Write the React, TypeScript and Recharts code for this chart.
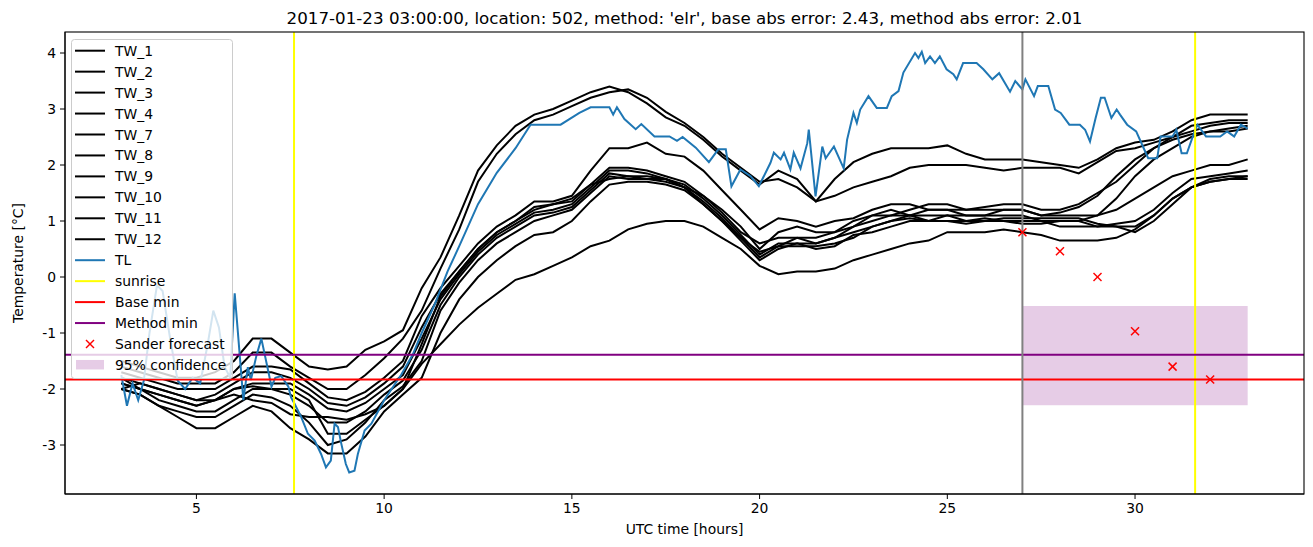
import React from 'react';
import { ComposedChart, Line, Scatter, XAxis, YAxis, ReferenceLine, ReferenceArea } from 'recharts';

const HOURS = [3, 3.5, 4, 4.5, 5, 5.5, 6, 6.5, 7, 7.5, 8, 8.5, 9, 9.5, 10, 10.5, 11, 11.5, 12, 12.5, 13, 13.5, 14, 14.5, 15, 15.5, 16, 16.5, 17, 17.5, 18, 18.5, 19, 19.5, 20, 20.5, 21, 21.5, 22, 22.5, 23, 23.5, 24, 24.5, 25, 25.5, 26, 26.5, 27, 27.5, 28, 28.5, 29, 29.5, 30, 30.5, 31, 31.5, 32, 32.5, 33];

const TW_1 = [
  -1.5, -1.6, -1.7, -1.8, -1.8, -1.7, -1.5, -1.1, -1.1, -1.35,
  -1.6, -1.65, -1.6, -1.3, -1.15, -0.95, -0.2, 0.35, 1.1, 1.9,
  2.35, 2.7, 2.9, 3.0, 3.15, 3.3, 3.4, 3.3, 3.1, 2.85,
  2.7, 2.45, 2.15, 1.9, 1.65, 1.9, 1.75, 1.35, 1.75, 2.05,
  2.2, 2.3, 2.3, 2.3, 2.35, 2.2, 2.1, 2.1, 2.1, 2.05,
  2.0, 1.95, 2.1, 2.3, 2.4, 2.45, 2.6, 2.8, 2.9, 2.9,
  2.9];
const TW_2 = [
  -1.6, -1.7, -1.8, -1.9, -1.9, -1.9, -1.7, -1.35, -1.35, -1.6,
  -1.8, -2.0, -2.0, -1.75, -1.45, -1.1, -0.6, 0.15, 0.85, 1.7,
  2.2, 2.55, 2.8, 2.9, 3.05, 3.2, 3.3, 3.35, 3.2, 2.95,
  2.75, 2.5, 2.2, 1.95, 1.7, 1.75, 1.6, 1.35, 1.45, 1.6,
  1.7, 1.8, 1.95, 2.0, 2.0, 2.0, 1.95, 1.9, 1.95, 1.95,
  1.95, 1.85, 2.05, 2.25, 2.3, 2.4, 2.5, 2.7, 2.75, 2.8,
  2.8];
const TW_3 = [
  -1.7, -1.8, -1.9, -2.0, -2.0, -2.0, -1.8, -1.6, -1.6, -1.65,
  -1.9, -2.15, -2.2, -2.05, -1.8, -1.5, -0.7, -0.2, 0.2, 0.6,
  0.9, 1.1, 1.35, 1.35, 1.45, 1.9, 2.3, 2.3, 2.4, 2.2,
  2.15, 1.9, 1.55, 1.2, 0.85, 1.05, 1.0, 0.9, 1.0, 1.05,
  1.2, 1.3, 1.3, 1.2, 1.2, 1.2, 1.25, 1.3, 1.3, 1.2,
  1.2, 1.3, 1.5, 1.7, 2.0, 2.3, 2.5, 2.6, 2.7, 2.75,
  2.75];
const TW_4 = [
  -1.8, -1.9, -2.0, -2.1, -2.2, -2.1, -1.9, -1.7, -1.7, -1.8,
  -2.0, -2.25, -2.3, -2.15, -1.9, -1.6, -0.9, -0.3, 0.1, 0.5,
  0.8, 1.0, 1.2, 1.3, 1.4, 1.65, 1.95, 1.95, 1.9, 1.8,
  1.7, 1.45, 1.15, 0.8, 0.6, 0.7, 0.7, 0.7, 0.8, 1.0,
  1.1, 1.2, 1.1, 1.2, 1.2, 1.1, 1.1, 1.2, 1.2, 1.1,
  1.1, 1.1, 1.1, 1.4, 1.8, 2.1, 2.3, 2.5, 2.6, 2.6,
  2.65];
const TW_7 = [
  -1.8, -2.0, -2.1, -2.2, -2.3, -2.2, -2.0, -1.9, -1.9, -1.9,
  -2.1, -2.35, -2.4, -2.25, -2.0, -1.75, -1.1, -0.4, 0.05, 0.45,
  0.75, 0.95, 1.15, 1.2, 1.3, 1.6, 1.9, 1.9, 1.85, 1.75,
  1.65, 1.4, 1.1, 0.75, 0.4, 0.6, 0.6, 0.6, 0.7, 0.9,
  1.0, 1.1, 1.1, 1.1, 1.1, 1.1, 1.1, 1.1, 1.1, 1.0,
  1.0, 1.0, 1.1, 1.2, 1.4, 1.6, 1.8, 1.9, 2.0, 2.0,
  2.1];
const TW_8 = [
  -1.9, -2.0, -2.2, -2.3, -2.4, -2.4, -2.2, -2.0, -2.0, -2.1,
  -2.3, -2.6, -2.6, -2.4, -2.1, -1.85, -1.3, -0.5, 0.0, 0.4,
  0.7, 0.9, 1.1, 1.15, 1.25, 1.55, 1.85, 1.8, 1.8, 1.75,
  1.6, 1.35, 1.05, 0.7, 0.45, 0.55, 0.7, 0.6, 0.7, 0.8,
  0.9, 1.0, 1.1, 1.0, 1.0, 1.0, 1.0, 1.0, 1.0, 1.0,
  0.9, 0.9, 0.9, 0.95, 1.0, 1.2, 1.5, 1.75, 1.8, 1.85,
  1.9];
const TW_9 = [
  -2.0, -2.1, -2.3, -2.4, -2.5, -2.5, -2.3, -2.1, -2.15, -2.3,
  -2.6, -3.0, -2.9, -2.6, -2.2, -1.95, -1.5, -0.6, -0.1, 0.3,
  0.6, 0.8, 1.0, 1.1, 1.2, 1.5, 1.8, 1.75, 1.75, 1.7,
  1.6, 1.3, 1.0, 0.7, 0.35, 0.55, 0.55, 0.55, 0.6, 0.7,
  0.9, 1.0, 1.05, 1.0, 1.1, 1.0, 1.05, 1.0, 0.95, 0.95,
  1.0, 1.0, 0.9, 0.9, 0.8, 1.0, 1.3, 1.6, 1.75, 1.8,
  1.8];
const TW_10 = [
  -2.0, -2.1, -2.3, -2.5, -2.7, -2.7, -2.5, -2.3, -2.4, -2.7,
  -2.9, -3.15, -3.15, -2.85, -2.4, -2.1, -1.8, -1.0, -0.4, 0.0,
  0.3, 0.55, 0.75, 0.8, 1.0, 1.35, 1.65, 1.7, 1.7, 1.65,
  1.55, 1.3, 1.0, 0.65, 0.3, 0.5, 0.6, 0.5, 0.55, 0.75,
  0.8, 0.9, 1.0, 1.0, 1.0, 0.95, 1.0, 1.05, 1.05, 1.05,
  1.05, 1.05, 0.95, 0.9, 0.9, 1.1, 1.4, 1.6, 1.7, 1.75,
  1.75];
const TW_11 = [
  -1.9, -2.0, -2.1, -2.2, -2.3, -2.2, -2.0, -1.95, -2.0, -2.0,
  -2.2, -2.8, -2.8, -2.55, -2.3, -2.0, -1.2, -0.35, 0.1, 0.5,
  0.8, 1.0, 1.25, 1.3, 1.35, 1.65, 1.75, 1.8, 1.75, 1.75,
  1.6, 1.45, 1.2, 0.9, 0.5, 0.8, 0.9, 0.8, 0.8, 0.9,
  1.1, 1.1, 1.2, 1.3, 1.3, 1.2, 1.2, 1.2, 1.2, 1.1,
  1.15, 1.25, 1.45, 1.8, 2.1, 2.3, 2.45, 2.55, 2.6, 2.65,
  2.7];
const TW_12 = [
  -2.0, -1.9, -2.0, -2.1, -2.2, -2.2, -2.1, -2.2, -2.25, -2.45,
  -2.5, -2.5, -2.55, -2.45, -2.3, -2.0, -1.55, -1.2, -0.85, -0.55,
  -0.3, -0.05, 0.05, 0.2, 0.35, 0.55, 0.65, 0.85, 0.95, 1.0,
  1.0, 0.9, 0.7, 0.5, 0.2, 0.05, 0.1, 0.1, 0.15, 0.3,
  0.4, 0.5, 0.6, 0.65, 0.8, 0.8, 0.8, 0.85, 0.8, 0.75,
  0.65, 0.65, 0.65, 0.7, 0.85, 1.1, 1.4, 1.6, 1.7, 1.75,
  1.8];

const TW_NAMES = ['TW_1', 'TW_2', 'TW_3', 'TW_4', 'TW_7', 'TW_8', 'TW_9', 'TW_10', 'TW_11', 'TW_12'];
const TW_SERIES = [TW_1, TW_2, TW_3, TW_4, TW_7, TW_8, TW_9, TW_10, TW_11, TW_12];

const TL_HOURS = [
  3.0, 3.15, 3.3, 3.45, 3.6, 3.75, 3.95, 4.1, 4.3, 4.5, 4.7, 4.9, 5.1, 5.3, 5.45, 5.6, 5.75, 5.9,
  6.02, 6.1, 6.25, 6.37, 6.45, 6.6, 6.73, 6.91, 7.0, 7.1, 7.26, 7.45, 7.52, 7.61, 7.79, 7.97,
  8.15, 8.32, 8.45, 8.58, 8.68, 8.77, 8.86, 8.98, 9.07, 9.21, 9.3, 9.48, 9.66, 10.0, 10.45, 10.76,
  11.0, 11.34, 11.69, 12.0, 12.5, 13.0, 13.5, 13.9, 14.7, 15.2, 15.5, 16.0, 16.1, 16.2, 16.4, 16.7,
  16.85, 17.2, 17.6, 17.8, 17.95, 18.3, 18.65, 18.9, 19.1, 19.25, 19.49, 19.76, 19.98, 20.29, 20.38,
  20.56, 20.65, 20.82, 20.91, 21.09, 21.27, 21.31, 21.49, 21.67, 21.76, 21.98, 22.24, 22.33, 22.5,
  22.59, 22.68, 22.9, 23.12, 23.39, 23.52, 23.7, 23.83, 24.14, 24.23, 24.32, 24.41, 24.54, 24.67,
  24.8, 24.98, 25.16, 25.25, 25.42, 25.78, 25.96, 26.2, 26.38, 26.67, 26.81, 27.0, 27.08, 27.31,
  27.41, 27.69, 27.87, 28.02, 28.25, 28.53, 28.67, 28.8, 28.95, 29.09, 29.19, 29.37, 29.51, 29.6,
  29.79, 30.03, 30.21, 30.35, 30.59, 30.68, 31.0, 31.1, 31.24, 31.38, 31.57, 31.66, 31.89, 32.27,
  32.45, 32.64, 32.82, 33.0];
const TL_VALUES = [
  -1.75, -2.3, -1.9, -2.2, -1.85, -1.0, -0.15, -0.25, -1.1, -1.85, -2.0, -1.8, -1.9, -1.2, -0.6, -0.9, -1.6, -1.8,
  -0.29, -0.95, -2.2, -1.61, -1.84, -1.4, -1.1, -1.67, -1.96, -1.8, -1.77, -1.96, -2.15, -2.26, -2.5, -2.8,
  -2.92, -3.16, -3.4, -3.28, -2.62, -2.68, -2.98, -3.34, -3.49, -3.46, -3.16, -2.74, -2.62, -2.2, -1.75, -1.39,
  -1.0, -0.5, 0.1, 0.55, 1.3, 1.86, 2.3, 2.72, 2.72, 2.93, 3.03, 3.03, 2.9, 3.03, 2.82, 2.64,
  2.73, 2.51, 2.51, 2.43, 2.5, 2.31, 2.05, 2.28, 2.28, 1.62, 1.92, 1.8, 1.62, 2.04, 2.22,
  2.1, 2.22, 1.92, 2.22, 1.94, 2.39, 2.63, 1.44, 2.33, 2.12, 2.33, 1.94, 2.45, 2.93,
  2.75, 2.99, 3.23, 3.02, 3.02, 3.23, 3.32, 3.65, 4.0, 3.91, 4.02, 3.82, 3.94, 3.82,
  3.94, 3.71, 3.62, 3.53, 3.82, 3.82, 3.71, 3.53, 3.64, 3.31, 3.5, 3.35, 3.53, 3.23,
  3.41, 3.41, 2.99, 2.93, 2.72, 2.72, 2.63, 2.42, 2.84, 3.2, 3.2, 2.84, 2.99, 2.9,
  2.72, 2.6, 2.33, 2.12, 2.12, 2.51, 2.51, 2.63, 2.21, 2.21, 2.57, 2.72, 2.51, 2.51,
  2.6, 2.51, 2.72, 2.65];

const SANDER_HOURS = [27, 28, 29, 30, 31, 32];
const SANDER_VALUES = [0.8, 0.46, 0.0, -0.97, -1.6, -1.83];

const SUNRISE_HOURS = [7.6, 31.6];
const FORECAST_HOUR = 27;
const BASE_MIN = -1.83;
const METHOD_MIN = -1.39;
const CONF_HOURS = [27, 33];
const CONF_RANGE = [-2.29, -0.52];

const X_TICKS = [5, 10, 15, 20, 25, 30];
const Y_TICKS = [-3, -2, -1, 0, 1, 2, 3, 4];

const TITLE = "2017-01-23 03:00:00, location: 502, method: 'elr', base abs error: 2.43, method abs error: 2.01";

const FONT = '"DejaVu Sans", Verdana, sans-serif';
const W = 1313;
const H = 547;
const PLOT = { left: 65, top: 32, right: 1304, bottom: 494 };

const twData = TW_SERIES.map((s) => HOURS.map((h, i) => ({ x: h, y: s[i] })));
const tlData = TL_HOURS.map((h, i) => ({ x: h, y: TL_VALUES[i] }));
const sanderData = SANDER_HOURS.map((h, i) => ({ x: h, y: SANDER_VALUES[i] }));

const XMark = (props: any) => {
  const { cx, cy } = props;
  const r = 4;
  return (
    <g>
      <line x1={cx - r} y1={cy - r} x2={cx + r} y2={cy + r} stroke="#ff0000" strokeWidth={1.5} />
      <line x1={cx - r} y1={cy + r} x2={cx + r} y2={cy - r} stroke="#ff0000" strokeWidth={1.5} />
    </g>
  );
};

type LegendItem = { label: string; kind: 'line' | 'x' | 'patch'; color: string };
const LEGEND_ITEMS: LegendItem[] = [
  ...TW_NAMES.map((n) => ({ label: n, kind: 'line' as const, color: '#000000' })),
  { label: 'TL', kind: 'line', color: '#1f77b4' },
  { label: 'sunrise', kind: 'line', color: '#ffff00' },
  { label: 'Base min', kind: 'line', color: '#ff0000' },
  { label: 'Method min', kind: 'line', color: '#800080' },
  { label: 'Sander forecast', kind: 'x', color: '#ff0000' },
  { label: '95% confidence', kind: 'patch', color: '#800080' },
];

export default function App() {
  const tickStyle = { fontSize: 13.9, fill: '#000', fontFamily: FONT };
  return (
    <div style={{ position: 'absolute', left: 0, top: 0, width: W, height: H, background: '#fff', fontFamily: FONT }}>
      <ComposedChart
        width={W}
        height={H}
        margin={{ top: PLOT.top, right: W - PLOT.right, bottom: H - PLOT.bottom - 30, left: PLOT.left - 50 }}
      >
        <XAxis
          dataKey="x"
          type="number"
          domain={[1.5, 34.5]}
          ticks={X_TICKS}
          allowDataOverflow
          height={30}
          tickSize={5}
          tickMargin={4}
          tick={tickStyle}
          stroke="#000"
          axisLine={{ stroke: '#000' }}
          tickLine={{ stroke: '#000' }}
        />
        <YAxis
          dataKey="y"
          type="number"
          domain={[-3.875, 4.375]}
          ticks={Y_TICKS}
          allowDataOverflow
          width={50}
          tickSize={5}
          tickMargin={4}
          tick={tickStyle}
          stroke="#000"
          axisLine={{ stroke: '#000' }}
          tickLine={{ stroke: '#000' }}
        />
        <ReferenceArea
          x1={CONF_HOURS[0]}
          x2={CONF_HOURS[1]}
          y1={CONF_RANGE[0]}
          y2={CONF_RANGE[1]}
          fill="#800080"
          fillOpacity={0.2}
          stroke="none"
        />
        {twData.map((d, i) => (
          <Line
            key={TW_NAMES[i]}
            data={d}
            dataKey="y"
            name={TW_NAMES[i]}
            stroke="#000000"
            strokeWidth={2}
            dot={false}
            isAnimationActive={false}
          />
        ))}
        <Line data={tlData} dataKey="y" name="TL" stroke="#1f77b4" strokeWidth={2} dot={false} isAnimationActive={false} />
        {SUNRISE_HOURS.map((h) => (
          <ReferenceLine key={h} x={h} stroke="#ffff00" strokeWidth={2} />
        ))}
        <ReferenceLine y={BASE_MIN} stroke="#ff0000" strokeWidth={2} />
        <ReferenceLine y={METHOD_MIN} stroke="#800080" strokeWidth={2} />
        <ReferenceLine x={FORECAST_HOUR} stroke="#808080" strokeWidth={2} />
        <Scatter data={sanderData} dataKey="y" name="Sander forecast" shape={XMark} isAnimationActive={false} />
      </ComposedChart>
      <svg
        width={W}
        height={H}
        style={{ position: 'absolute', left: 0, top: 0, pointerEvents: 'none' }}
      >
        <rect
          x={PLOT.left}
          y={PLOT.top}
          width={PLOT.right - PLOT.left}
          height={PLOT.bottom - PLOT.top}
          fill="none"
          stroke="#000"
          strokeWidth={1.1}
        />
        <text x={(PLOT.left + PLOT.right) / 2} y={24} textAnchor="middle" fontSize={16.7} fontFamily={FONT} fill="#000">
          {TITLE}
        </text>
        <text x={(PLOT.left + PLOT.right) / 2} y={534} textAnchor="middle" fontSize={13.9} fontFamily={FONT} fill="#000">
          UTC time [hours]
        </text>
        <text
          transform={`translate(23, ${(PLOT.top + PLOT.bottom) / 2}) rotate(-90)`}
          textAnchor="middle"
          fontSize={13.9}
          fontFamily={FONT}
          fill="#000"
        >
          Temperature [°C]
        </text>
        <rect x={71.5} y={39.5} width={161} height={339} rx={3} fill="#fff" fillOpacity={0.8} stroke="#cccccc" strokeWidth={1} />
        {LEGEND_ITEMS.map((it, i) => {
          const cy = 50.7 + i * 20.95;
          let handle;
          if (it.kind === 'line') {
            handle = <line x1={75} x2={105} y1={cy} y2={cy} stroke={it.color} strokeWidth={2} />;
          } else if (it.kind === 'x') {
            handle = (
              <g>
                <line x1={86} y1={cy - 4} x2={94} y2={cy + 4} stroke={it.color} strokeWidth={1.5} />
                <line x1={86} y1={cy + 4} x2={94} y2={cy - 4} stroke={it.color} strokeWidth={1.5} />
              </g>
            );
          } else {
            handle = <rect x={76} y={cy - 5} width={28} height={9.5} fill={it.color} fillOpacity={0.2} />;
          }
          return (
            <g key={it.label}>
              {handle}
              <text x={115} y={cy + 5} fontSize={13.9} fontFamily={FONT} fill="#000">
                {it.label}
              </text>
            </g>
          );
        })}
      </svg>
    </div>
  );
}
